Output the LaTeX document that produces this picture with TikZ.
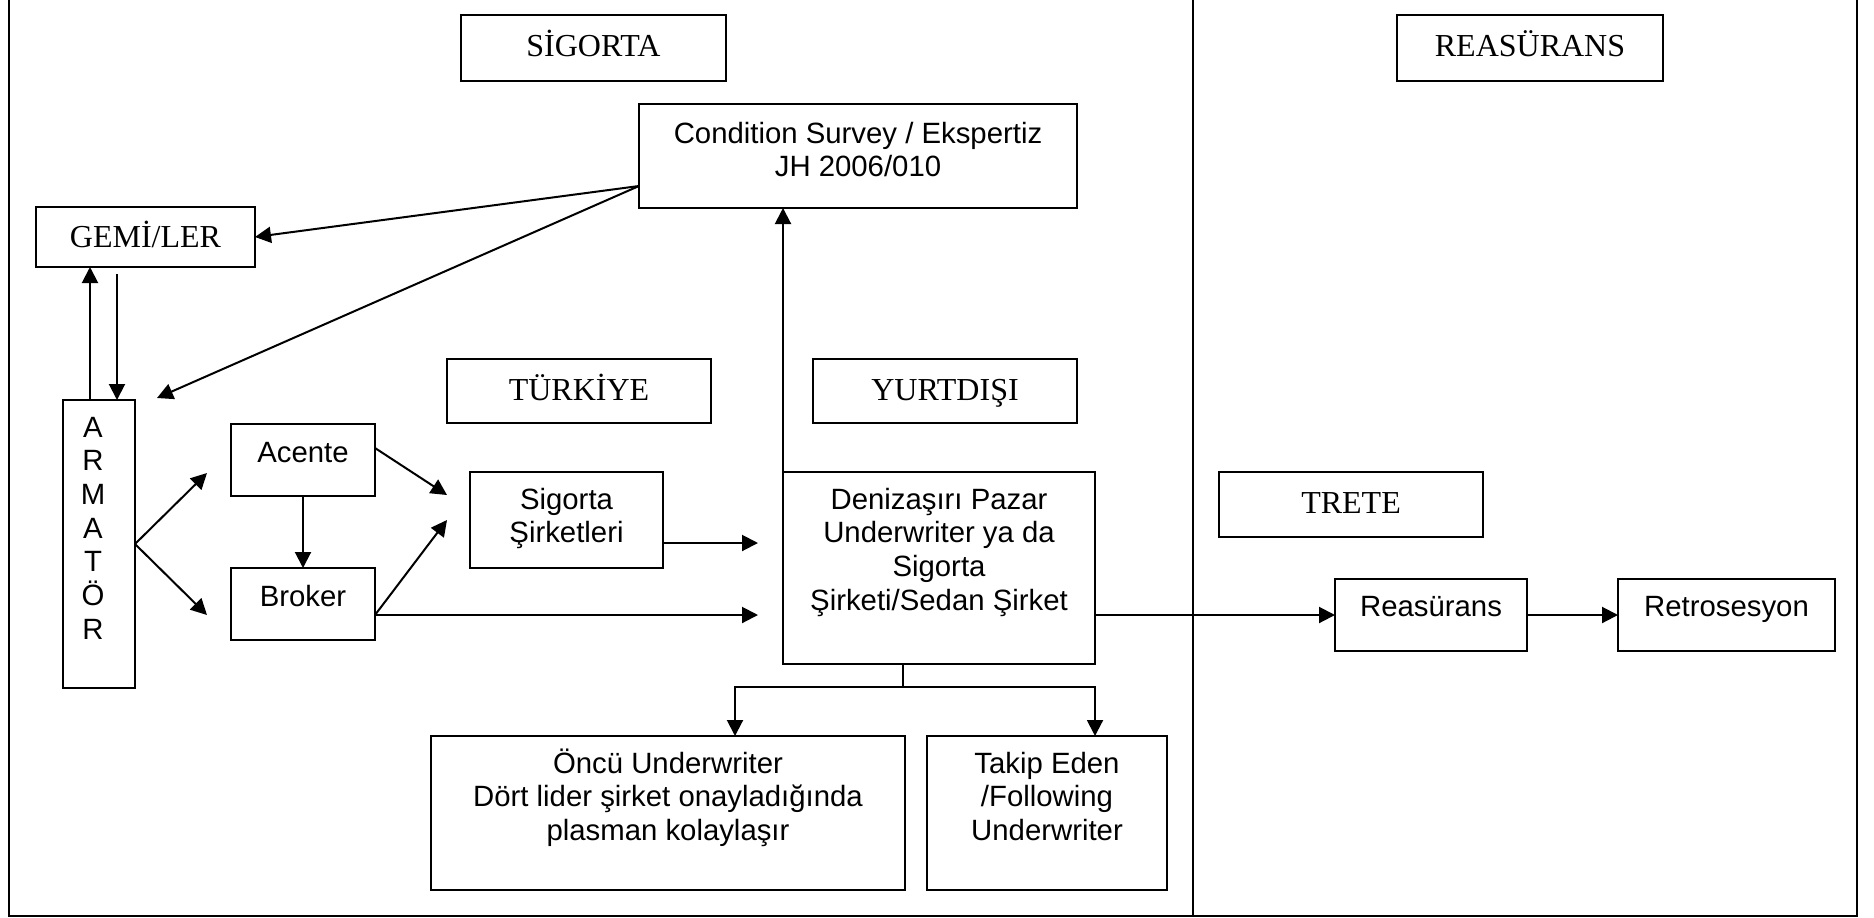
\documentclass[tikz,border=0pt]{standalone}
\usepackage{fontspec}
\setmainfont{Liberation Sans}
\newfontfamily\headfont{Liberation Serif}
\usetikzlibrary{arrows.meta}
% one drawing unit
\newlength\pxu
\setlength\pxu{0.375pt}
% box contents: width, height, first baseline offset (all in drawing units), text
\newcommand\boxtext[4]{\parbox[b][#2\pxu][t]{#1\pxu}{\centering\rule{0pt}{#3\pxu}#4\par}}
\tikzset{
  bx/.style={draw, line width=0.75pt, inner sep=0pt, outer sep=0pt, anchor=north west,
             font=\fontsize{11pt}{12.65pt}\selectfont},
  hd/.style={bx, font=\headfont\fontsize{12pt}{13.8pt}\selectfont},
  ln/.style={line width=0.75pt},
  arr/.style={line width=0.75pt, -{Triangle[length=6pt,width=6pt]}},
}
\begin{document}
\begin{tikzpicture}[x=0.375pt, y=-0.375pt]
\useasboundingbox (0,0) rectangle (1874,917);

% frame and column divider
\draw[ln] (9,0) -- (9,916) -- (1857,916) -- (1857,0);
\draw[ln] (1193,0) -- (1193,916);

% section headings
\node[hd] (sig)   at (461,15)   {\boxtext{265}{66}{41}{SİGORTA}};
\node[hd] (reh)   at (1397,15)  {\boxtext{266}{66}{41}{REASÜRANS}};
\node[hd] (gemi)  at (36,207)   {\boxtext{219}{60}{40}{GEMİ/LER}};
\node[hd] (tr)    at (447,359)  {\boxtext{264}{64}{41}{TÜRKİYE}};
\node[hd] (yd)    at (813,359)  {\boxtext{264}{64}{41}{YURTDIŞI}};
\node[hd] (trete) at (1219,472) {\boxtext{264}{65}{41}{TRETE}};

% process boxes
\node[bx] (cond)   at (639,104) {\boxtext{438}{104}{39}{Condition Survey / Ekspertiz\\JH 2006/010}};
\node[bx] (arm)    at (63,400)  {\boxtext{72}{288}{37}{\rightskip=12\pxu plus 1fil\relax A\\R\\M\\A\\T\\Ö\\R}};
\node[bx] (acente) at (231,424) {\boxtext{144}{72}{38}{Acente}};
\node[bx] (broker) at (231,568) {\boxtext{144}{72}{38}{Broker}};
\node[bx] (sirk)   at (470,472) {\boxtext{193}{96}{37}{Sigorta\\Şirketleri}};
\node[bx] (deniz)  at (783,472) {\boxtext{312}{192}{37}{Denizaşırı Pazar\\Underwriter ya da\\Sigorta\\Şirketi/Sedan Şirket}};
\node[bx] (reas)   at (1335,579) {\boxtext{192}{72}{37}{Reasürans}};
\node[bx] (retro)  at (1618,579) {\boxtext{217}{72}{37}{Retrosesyon}};
\node[bx] (oncu)   at (431,736) {\boxtext{474}{154}{37}{Öncü Underwriter\\Dört lider şirket onayladığında\\plasman kolaylaşır}};
\node[bx] (takip)  at (927,736) {\boxtext{240}{154}{37}{Takip Eden\\/Following\\Underwriter}};

% survey to ships and shipowner
\coordinate (csrc) at ([yshift=8.25pt]cond.south west);
\coordinate (armtip) at ([xshift=8.25pt,yshift=0.75pt]arm.north east);
\draw[arr] (csrc) -- (gemi.east);
\draw[arr] (csrc) -- (armtip);

% shipowner and ships
\coordinate (upx) at ([xshift=-3.375pt]arm.north);
\coordinate (dnx) at ([xshift=6.75pt]arm.north);
\coordinate (g0) at (gemi.south -| dnx);
\coordinate (dtop) at ([yshift=-2.625pt]g0);
\draw[arr] (upx) -- (upx |- gemi.south);
\draw[arr] (dtop) -- (dnx);

% shipowner to agent and broker
\coordinate (tipA) at ([xshift=-9pt,yshift=-4.875pt]acente.west);
\coordinate (tipB) at ([xshift=-9pt,yshift=-4.125pt]broker.west);
\draw[arr] (arm.east) -- (tipA);
\draw[arr] (arm.east) -- (tipB);
\draw[arr] (acente.south) -- (broker.north);

% agent and broker to insurance companies
\coordinate (acsrc) at ([yshift=4.5pt]acente.east);
\coordinate (brsrc) at ([yshift=-4.125pt]broker.east);
\coordinate (tipS1) at ([xshift=-8.625pt,yshift=9.375pt]sirk.west);
\coordinate (tipS2) at ([xshift=-8.625pt]sirk.west);
\draw[arr] (acsrc) -- (tipS1);
\draw[arr] (brsrc) -- (tipS2);

% towards the overseas market
\coordinate (sksrc) at ([yshift=-8.625pt]sirk.east);
\coordinate (d1) at (deniz.west |- sksrc);
\coordinate (tipD1) at ([xshift=-9.375pt]d1);
\coordinate (d2) at (deniz.west |- brsrc);
\coordinate (tipD2) at ([xshift=-9.375pt]d2);
\draw[arr] (sksrc) -- (tipD1);
\draw[arr] (brsrc) -- (tipD2);

% overseas market up to the survey
\draw[arr] (deniz.north west) -- (deniz.north west |- cond.south);

% reinsurance chain
\draw[arr] (reas.west -| deniz.east) -- (reas.west);
\draw[arr] (reas.east) -- (retro.west);

% leading and following underwriters
\coordinate (dsrc) at ([xshift=-13.5pt]deniz.south);
\coordinate (junc) at ([yshift=-8.625pt]dsrc);
\coordinate (ol) at ([xshift=25.125pt]oncu.north);
\draw[ln] (dsrc) -- (junc);
\draw[arr] (junc) -| (ol);
\draw[arr] (junc) -| (takip.north -| deniz.east);
\end{tikzpicture}
\end{document}
